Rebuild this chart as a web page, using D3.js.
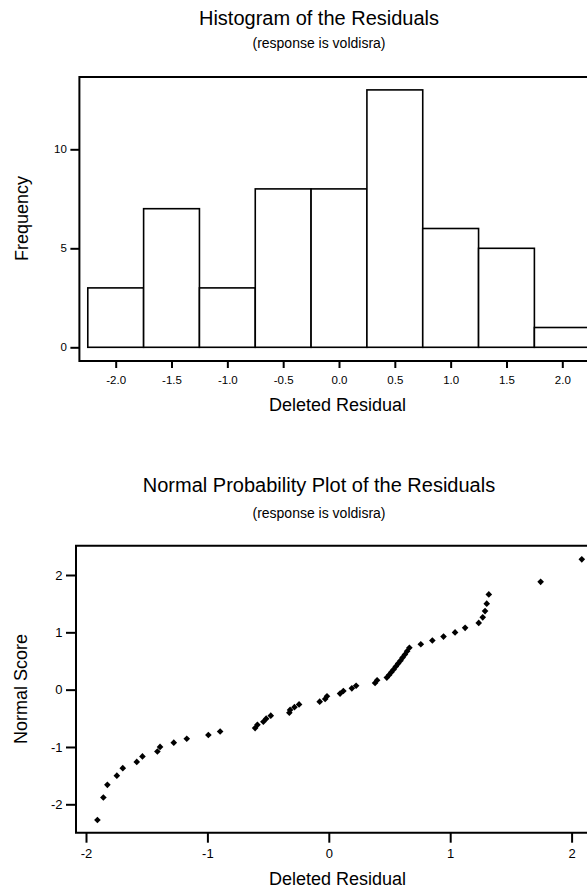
<!DOCTYPE html>
<html><head><meta charset="utf-8">
<script src="https://cdn.jsdelivr.net/npm/d3@7"></script>
<style>
body{margin:0;background:#fff}
svg{display:block}
text{font-family:"Liberation Sans",Arial,Helvetica,sans-serif;fill:#000}
</style>
</head><body>
<svg id="c" width="587" height="888"></svg>
<script>
// ---- data ----
const binStarts = [-2.25, -1.75, -1.25, -0.75, -0.25, 0.25, 0.75, 1.25, 1.75];
const binCounts = [3, 7, 3, 8, 8, 13, 6, 5, 1];
const binWidth = 0.5;
const histXTicks = [-2.0, -1.5, -1.0, -0.5, 0.0, 0.5, 1.0, 1.5, 2.0];
const histYTicks = [0, 5, 10];

const residuals = [
  -1.906, -1.857, -1.824, -1.746, -1.697, -1.582, -1.535, -1.412, -1.390, -1.277,
  -1.170, -0.992, -0.895, -0.607, -0.588, -0.539, -0.516, -0.478, -0.325, -0.319,
  -0.283, -0.245, -0.075, -0.030, -0.015, 0.093, 0.120, 0.190, 0.225, 0.381,
  0.398, 0.478, 0.497, 0.515, 0.534, 0.552, 0.571, 0.590, 0.608, 0.627,
  0.645, 0.664, 0.758, 0.853, 0.945, 1.040, 1.123, 1.235, 1.268, 1.287,
  1.301, 1.318, 1.745, 2.084
];
const normalScores = [
  -2.273, -1.881, -1.661, -1.500, -1.370, -1.261, -1.164, -1.078, -0.999, -0.925,
  -0.857, -0.792, -0.730, -0.671, -0.614, -0.559, -0.506, -0.454, -0.403, -0.353,
  -0.305, -0.257, -0.210, -0.163, -0.116, -0.069, -0.023, 0.023, 0.069, 0.116,
  0.163, 0.210, 0.257, 0.305, 0.353, 0.403, 0.454, 0.506, 0.559, 0.614,
  0.671, 0.730, 0.792, 0.857, 0.925, 0.999, 1.078, 1.164, 1.261, 1.370,
  1.500, 1.661, 1.881, 2.273
];
const npXTicks = [-2, -1, 0, 1, 2];
const npYTicks = [-2, -1, 0, 1, 2];

const svg = d3.select("#c");

function styleAxis(g, fs) {
  g.select(".domain").remove();
  g.selectAll(".tick line").attr("stroke", "#000").attr("stroke-width", 2);
  g.selectAll(".tick text").attr("font-size", fs).attr("font-family", '"Liberation Sans",Arial,sans-serif').attr("fill", "#000");
}

// ---- Histogram ----
const hL = 79.4, hT = 77, hB = 361, hR = 640;
const xH = d3.scaleLinear().domain([-2, 2]).range([115.7, 562.3]);
const yH = d3.scaleLinear().domain([0, 10]).range([347.3, 149.3]);

svg.append("text").attr("x", 319).attr("y", 24.5).attr("text-anchor", "middle")
  .attr("font-size", 20).text("Histogram of the Residuals");
svg.append("text").attr("x", 319).attr("y", 48).attr("text-anchor", "middle")
  .attr("font-size", 14).text("(response is voldisra)");

const bars = binStarts.map((s, i) => ({s, c: binCounts[i]}));
svg.append("g").selectAll("rect").data(bars).join("rect")
  .attr("x", d => xH(d.s))
  .attr("width", d => xH(d.s + binWidth) - xH(d.s))
  .attr("y", d => yH(d.c))
  .attr("height", d => yH(0) - yH(d.c))
  .attr("fill", "#fff").attr("stroke", "#000").attr("stroke-width", 1.6);

svg.append("path")
  .attr("d", `M${hR},${hT}H${hL}V${hB}H${hR}`)
  .attr("fill", "none").attr("stroke", "#000").attr("stroke-width", 2);

svg.append("g").attr("transform", `translate(${hL},0)`)
  .call(d3.axisLeft(yH).tickValues(histYTicks).tickSize(9).tickPadding(3.5).tickFormat(d => String(d)))
  .call(g => styleAxis(g, 11.5));
svg.append("g").attr("transform", `translate(0,${hB})`)
  .call(d3.axisBottom(xH).tickValues(histXTicks).tickSize(7).tickPadding(7.5).tickFormat(d => d.toFixed(1)))
  .call(g => styleAxis(g, 11.5));

svg.append("text").attr("x", 337.5).attr("y", 411).attr("text-anchor", "middle")
  .attr("font-size", 18).text("Deleted Residual");
svg.append("text").attr("transform", "translate(28,218.5) rotate(-90)").attr("text-anchor", "middle")
  .attr("font-size", 18).text("Frequency");

// ---- Normal probability plot ----
const nL = 76, nT = 545.7, nB = 832.7, nR = 640;
const xN = d3.scaleLinear().domain([-2, 2]).range([86, 571.6]);
const yN = d3.scaleLinear().domain([-2, 2]).range([804.3, 575]);

svg.append("text").attr("x", 319).attr("y", 491.5).attr("text-anchor", "middle")
  .attr("font-size", 20).text("Normal Probability Plot of the Residuals");
svg.append("text").attr("x", 319).attr("y", 517.5).attr("text-anchor", "middle")
  .attr("font-size", 14).text("(response is voldisra)");

svg.append("path")
  .attr("d", `M${nR},${nT}H${nL}V${nB}H${nR}`)
  .attr("fill", "none").attr("stroke", "#000").attr("stroke-width", 2);

svg.append("g").attr("transform", `translate(${nL},0)`)
  .call(d3.axisLeft(yN).tickValues(npYTicks).tickSize(10).tickPadding(3.5).tickFormat(d => String(d)))
  .call(g => styleAxis(g, 13));
svg.append("g").attr("transform", `translate(0,${nB})`)
  .call(d3.axisBottom(xN).tickValues(npXTicks).tickSize(10).tickPadding(6).tickFormat(d => String(d)))
  .call(g => styleAxis(g, 13));

const pts = residuals.map((r, i) => ({r, z: normalScores[i]}));
const diamond = d3.symbol().type(d3.symbolSquare).size(22);
svg.append("g").selectAll("path").data(pts).join("path")
  .attr("d", diamond)
  .attr("transform", d => `translate(${xN(d.r)},${yN(d.z)}) rotate(45)`)
  .attr("fill", "#000");

svg.append("text").attr("x", 337.5).attr("y", 885).attr("text-anchor", "middle")
  .attr("font-size", 18).text("Deleted Residual");
svg.append("text").attr("transform", "translate(27,689) rotate(-90)").attr("text-anchor", "middle")
  .attr("font-size", 18).text("Normal Score");
</script>
</body></html>
